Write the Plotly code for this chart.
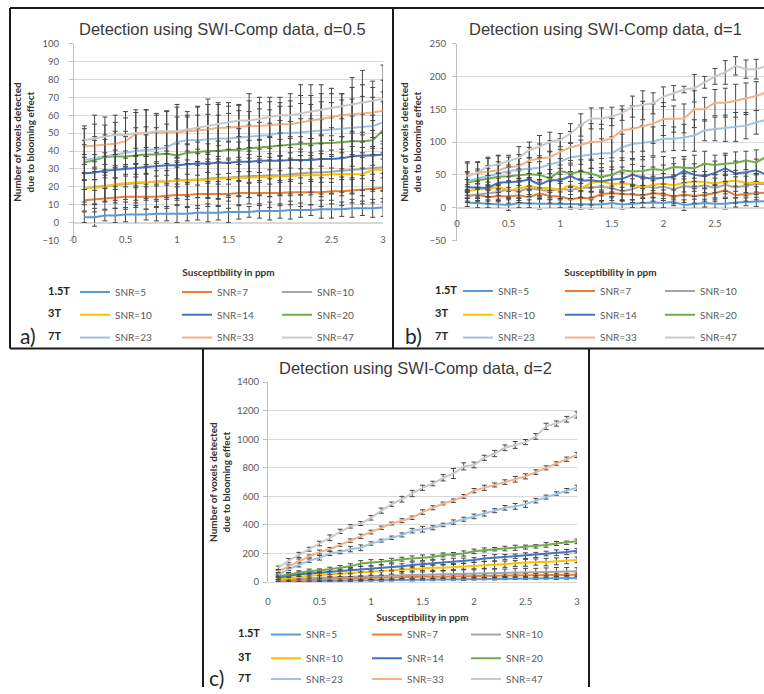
import plotly.graph_objects as go

# ---------------- data ----------------
x_ppm = [0.1, 0.2, 0.3, 0.4, 0.5, 0.6, 0.7, 0.8, 0.9, 1.0,
         1.1, 1.2, 1.3, 1.4, 1.5, 1.6, 1.7, 1.8, 1.9, 2.0,
         2.1, 2.2, 2.3, 2.4, 2.5, 2.6, 2.7, 2.8, 2.9, 3.0]

series_names = ["SNR=5", "SNR=7", "SNR=10",
                "SNR=10", "SNR=14", "SNR=20",
                "SNR=23", "SNR=33", "SNR=47"]
field_labels = ["1.5T", "3T", "7T"]
panel_titles = ["Detection using SWI-Comp data, d=0.5",
                "Detection using SWI-Comp data, d=1",
                "Detection using SWI-Comp data, d=2"]
panel_letters = ["a)", "b)", "c)"]
x_title = "Susceptibility in ppm"
y_title = "<b>Number of voxels detected<br>due to blooming effect</b>"

# panel a (d=0.5)
a_snr5 = [3, 3, 4, 4, 4.5, 4.5, 4.5, 5, 5, 5, 5, 5.5, 5.5, 5.5, 6, 6, 6, 6.5, 6.5, 6.5, 7, 7, 7, 7.5, 7.5, 7.5, 8, 8, 8, 8.5]
a_snr7 = [12.5, 13, 13.5, 14, 14.5, 14.5, 14.5, 14.5, 15, 15.5, 15.5, 16, 16, 16, 16, 16.5, 16.5, 16.5, 16.5, 16.5, 17, 17, 17, 17, 17.5, 17.5, 18, 18.5, 19, 19.5]
a_snr10 = [19, 20, 20.5, 21, 21.5, 22, 22.5, 23, 23, 23.5, 24, 24, 24.5, 25, 25, 25.5, 26, 26, 26.5, 26.5, 27, 27.5, 28, 28, 28.5, 29, 29.5, 30, 30.5, 31]
a_snr10_3t = [19.5, 19.5, 20, 21.5, 22, 22.5, 22.5, 23, 23, 23.5, 23.5, 24, 24, 24.5, 25, 25, 25, 25.5, 25.5, 26, 26, 26.5, 26.5, 26.5, 27, 27, 27, 27, 29.5, 29.5]
a_snr14 = [27.5, 28, 29, 29.5, 30, 30.5, 31, 31.5, 32, 32, 32.5, 33, 33, 33.5, 33.5, 34, 34, 34.5, 34.5, 34.5, 35, 35, 35, 35.5, 35.5, 36, 37, 37.5, 37.5, 38]
a_snr20 = [33.5, 35, 36.5, 37, 37, 37.5, 38, 38, 38.5, 37.5, 39, 39.5, 40, 40, 40.5, 40.5, 41.5, 42, 42.5, 43, 43.5, 44, 44, 44.5, 44.5, 45, 45.5, 45.5, 46, 51.5]
a_snr23 = [35, 36, 37, 38, 39, 40, 40.5, 41, 42, 45, 46, 46, 46.5, 47, 47, 47.5, 48, 48.5, 49, 50, 50, 50.5, 51, 51.5, 52, 52.5, 53, 53.5, 54, 56]
a_snr33 = [42.5, 43, 43.5, 44, 45.5, 49.5, 50, 50, 50.5, 50.5, 51, 51.5, 52, 53, 53, 53.5, 54, 54, 54.5, 55, 55, 56, 57, 58, 59, 60, 60.5, 61, 61.5, 62.5]
a_snr47 = [46, 47, 48, 49, 49, 50, 50, 51, 51, 51, 52, 53, 54, 55, 56, 57, 57, 58, 59, 60, 60, 61, 62, 63, 64, 65, 66, 67, 68, 69]

a_err5 = [3, 5, 3, 4, 4, 5, 3, 4, 4, 5, 4, 4, 5, 4, 6, 4, 3, 4, 5, 4, 5, 4, 3, 5, 5, 4, 5, 4, 5, 5]
a_err7 = [6, 7, 6, 6, 7, 6, 7, 6, 7, 6, 7, 8, 7, 7, 8, 7, 6, 7, 8, 7, 7, 8, 7, 8, 7, 8, 7, 8, 8, 8]
a_err10 = [9, 10, 9, 10, 10, 11, 10, 11, 10, 11, 11, 10, 11, 12, 11, 11, 12, 11, 12, 11, 12, 12, 11, 12, 12, 12, 13, 12, 12, 13]
a_err10_3t = [8, 9, 8, 9, 9, 10, 9, 10, 9, 10, 9, 10, 10, 11, 10, 10, 11, 10, 11, 11, 10, 11, 11, 12, 11, 12, 11, 12, 12, 12]
a_err14 = [9, 10, 10, 11, 10, 11, 11, 10, 11, 12, 11, 12, 11, 12, 12, 11, 12, 12, 13, 12, 12, 13, 12, 13, 13, 12, 13, 13, 14, 13]
a_err20 = [10, 11, 10, 12, 11, 12, 11, 12, 12, 13, 12, 13, 12, 13, 13, 12, 13, 14, 13, 14, 13, 14, 14, 13, 14, 15, 14, 15, 14, 16]
a_err23 = [11, 12, 12, 13, 12, 13, 13, 12, 13, 14, 13, 14, 14, 13, 14, 15, 14, 15, 14, 15, 15, 16, 15, 16, 15, 16, 16, 17, 16, 17]
a_err33 = [10, 12, 11, 12, 13, 12, 13, 11, 12, 14, 11, 13, 14, 13, 12, 12, 14, 13, 13, 12, 13, 15, 14, 14, 13, 12, 15, 16, 14, 17]
a_err47 = [8, 13, 11, 11, 13, 13, 13, 9, 11, 15, 8, 12, 15, 12, 11, 9, 15, 12, 11, 10, 12, 16, 15, 14, 11, 7, 15, 18, 11, 19]

# panel b (d=1)
b_snr5 = [8, 7, 6, 6, 4, 7, 6, 6, 6, 6, 5, 6, 5, 5, 7, 5, 6, 7, 8, 7, 9, 4, 6, 7, 6, 6, 8, 9, 9, 10]
b_snr7 = [18, 20, 16, 18, 17, 19, 16, 22, 18, 17, 13, 15, 14, 21, 22, 21, 20, 19, 22, 21, 17, 20, 18, 20, 22, 27, 19, 21, 22, 23]
b_snr10 = [18, 20, 22, 24, 28, 25, 30, 27, 26, 29, 27, 30, 31, 32, 30, 25, 28, 34, 30, 32, 28, 33, 31, 34, 30, 35, 31, 33, 36, 36]
b_snr10_3t = [25, 28, 28, 32, 26, 30, 33, 30, 30, 27, 35, 29, 38, 40, 36, 37, 36, 30, 35, 37, 34, 38, 40, 39, 37, 40, 41, 38, 38, 38]
b_snr14 = [31, 31, 30, 38, 39, 40, 43, 35, 42, 42, 48, 41, 42, 40, 43, 44, 50, 46, 44, 46, 47, 56, 50, 48, 53, 60, 52, 54, 57, 50]
b_snr20 = [38, 42, 44, 47, 48, 50, 51, 50, 45, 56, 52, 55, 52, 47, 50, 57, 55, 56, 59, 57, 62, 61, 60, 67, 65, 67, 68, 72, 69, 78]
b_snr23 = [40, 45, 48, 52, 56, 58, 60, 61, 66, 70, 77, 79, 80, 83, 83, 92, 97, 99, 101, 105, 105, 107, 110, 118, 120, 121, 123, 125, 130, 134]
b_snr33 = [50, 53, 55, 57, 62, 63, 72, 75, 77, 85, 92, 96, 100, 101, 106, 118, 120, 124, 128, 135, 135, 136, 150, 150, 160, 160, 163, 166, 170, 176]
b_snr47 = [48, 53, 63, 66, 71, 76, 88, 93, 100, 103, 113, 126, 136, 136, 139, 144, 154, 156, 159, 169, 175, 180, 182, 191, 200, 206, 216, 211, 211, 216]

b_err5 = [6, 7, 6, 7, 8, 7, 6, 8, 7, 6, 7, 8, 7, 6, 8, 7, 6, 7, 8, 7, 6, 8, 7, 6, 7, 8, 7, 6, 7, 8]
b_err7 = [8, 9, 10, 9, 10, 11, 10, 9, 11, 10, 12, 11, 10, 12, 11, 10, 12, 11, 12, 10, 11, 12, 11, 10, 12, 11, 12, 11, 10, 12]
b_err10 = [10, 11, 12, 13, 12, 14, 13, 12, 14, 15, 13, 14, 15, 14, 13, 15, 16, 14, 15, 14, 16, 15, 14, 16, 15, 14, 16, 15, 16, 15]
b_err10_3t = [10, 12, 11, 13, 12, 14, 13, 12, 14, 13, 15, 14, 13, 15, 14, 16, 15, 14, 13, 15, 16, 14, 15, 16, 14, 15, 16, 15, 14, 15]
b_err14 = [12, 13, 14, 15, 14, 16, 15, 17, 16, 18, 17, 16, 18, 17, 19, 18, 16, 17, 18, 19, 20, 18, 17, 19, 18, 20, 19, 18, 17, 19]
b_err20 = [15, 14, 16, 18, 17, 16, 18, 20, 22, 19, 20, 18, 22, 20, 21, 19, 20, 22, 18, 21, 14, 17, 20, 19, 15, 16, 17, 14, 19, 17]
b_err23 = [15, 14, 16, 18, 15, 17, 16, 18, 20, 19, 22, 24, 20, 22, 25, 20, 24, 26, 22, 20, 18, 20, 24, 16, 18, 20, 22, 20, 18, 20]
b_err33 = [18, 16, 20, 22, 15, 18, 20, 22, 25, 20, 24, 30, 28, 26, 30, 32, 35, 38, 30, 25, 20, 22, 28, 18, 20, 22, 25, 24, 22, 26]
b_err47 = [22, 17, 14, 14, 9, 17, 12, 17, 15, 10, 15, 17, 16, 16, 14, 11, 16, 22, 16, 15, 11, 5, 21, 9, 12, 18, 14, 14, 15, 14]

# panel c (d=2)
c_snr5 = [3, 5, 6, 7, 8, 9, 10, 11, 12, 13, 14, 15, 16, 16, 17, 18, 19, 20, 20, 21, 22, 23, 24, 24, 25, 26, 27, 27, 28, 29]
c_snr7 = [10, 14, 17, 20, 22, 24, 26, 28, 30, 31, 32, 34, 35, 36, 37, 38, 39, 40, 41, 42, 43, 44, 45, 46, 47, 48, 49, 50, 51, 52]
c_snr10 = [15, 20, 25, 28, 30, 32, 35, 38, 40, 42, 44, 46, 48, 50, 52, 54, 55, 57, 58, 60, 62, 63, 65, 66, 68, 70, 71, 72, 74, 75]
c_snr10_3t = [20, 30, 40, 45, 50, 55, 60, 65, 65, 70, 75, 80, 85, 90, 95, 100, 100, 105, 110, 115, 120, 120, 125, 130, 135, 140, 140, 145, 150, 155]
c_snr14 = [30, 45, 55, 60, 65, 70, 75, 80, 90, 95, 100, 105, 110, 120, 125, 135, 140, 145, 150, 155, 165, 170, 175, 180, 185, 190, 200, 205, 210, 220]
c_snr20 = [40, 55, 65, 75, 80, 90, 100, 110, 130, 135, 140, 150, 160, 165, 170, 175, 190, 195, 200, 215, 225, 230, 235, 240, 245, 250, 260, 270, 275, 285]
c_snr23 = [50, 90, 120, 150, 170, 200, 210, 230, 240, 270, 290, 310, 330, 360, 370, 380, 400, 420, 440, 460, 480, 500, 520, 530, 545, 570, 595, 620, 640, 660]
c_snr33 = [75, 110, 150, 180, 210, 230, 260, 290, 320, 350, 380, 410, 430, 450, 490, 520, 550, 570, 600, 640, 660, 680, 700, 720, 740, 770, 800, 830, 860, 890]
c_snr47 = [100, 150, 190, 230, 270, 310, 355, 390, 410, 450, 500, 545, 580, 620, 660, 690, 730, 760, 810, 820, 870, 900, 940, 960, 980, 1020, 1090, 1110, 1140, 1170]

c_err5 = [5, 6, 7, 6, 8, 7, 6, 8, 7, 6, 8, 7, 6, 8, 7, 8, 6, 7, 8, 7, 6, 8, 7, 6, 8, 7, 6, 8, 7, 6]
c_err7 = [8, 10, 12, 10, 12, 14, 12, 10, 14, 12, 14, 12, 10, 14, 12, 14, 12, 10, 12, 14, 12, 14, 12, 10, 14, 12, 14, 12, 10, 12]
c_err10 = [20, 22, 24, 26, 28, 24, 26, 30, 28, 26, 28, 30, 26, 28, 30, 28, 26, 30, 28, 26, 30, 28, 26, 30, 28, 26, 28, 30, 28, 26]
c_err10_3t = [15, 18, 20, 22, 24, 20, 22, 26, 24, 22, 26, 24, 22, 20, 24, 26, 22, 24, 20, 22, 24, 26, 22, 20, 24, 22, 26, 24, 22, 20]
c_err14 = [12, 14, 16, 18, 20, 18, 16, 22, 20, 18, 20, 22, 18, 20, 16, 18, 20, 22, 18, 16, 20, 22, 18, 16, 20, 18, 16, 20, 18, 16]
c_err20 = [10, 12, 14, 16, 12, 14, 16, 18, 20, 22, 18, 16, 14, 18, 20, 16, 14, 12, 18, 16, 14, 12, 16, 18, 14, 12, 16, 14, 12, 16]
c_err23 = [8, 10, 14, 12, 16, 14, 12, 18, 20, 12, 10, 12, 14, 16, 20, 14, 12, 15, 14, 16, 18, 14, 16, 20, 22, 16, 14, 12, 15, 18]
c_err33 = [8, 10, 12, 10, 14, 12, 10, 12, 15, 13, 12, 10, 14, 12, 16, 14, 10, 12, 13, 15, 18, 14, 16, 20, 18, 16, 14, 12, 15, 18]
c_err47 = [12, 15, 18, 14, 16, 20, 15, 12, 14, 16, 18, 15, 20, 22, 18, 16, 22, 35, 25, 20, 18, 22, 20, 24, 18, 20, 22, 18, 20, 22]

# tables built from the arrays above
panel_values = [
    [a_snr5, a_snr7, a_snr10, a_snr10_3t, a_snr14, a_snr20, a_snr23, a_snr33, a_snr47],
    [b_snr5, b_snr7, b_snr10, b_snr10_3t, b_snr14, b_snr20, b_snr23, b_snr33, b_snr47],
    [c_snr5, c_snr7, c_snr10, c_snr10_3t, c_snr14, c_snr20, c_snr23, c_snr33, c_snr47],
]
panel_errors = [
    [a_err5, a_err7, a_err10, a_err10_3t, a_err14, a_err20, a_err23, a_err33, a_err47],
    [b_err5, b_err7, b_err10, b_err10_3t, b_err14, b_err20, b_err23, b_err33, b_err47],
    [c_err5, c_err7, c_err10, c_err10_3t, c_err14, c_err20, c_err23, c_err33, c_err47],
]

# ---------------- styles / layout ----------------
W, H = 764, 694
series_colors = ["#5B9BD5", "#ED7D31", "#A5A5A5",
                 "#FFC000", "#4472C4", "#70AD47",
                 "#9DC3E6", "#F4B183", "#C9C9C9"]

BODY = "Lato, 'Liberation Sans', sans-serif"
TITLE_FONT = "'Liberation Sans', Arial, sans-serif"

# pixel geometry of each panel's plot area
panels = [
    dict(px0=74, px1=383, py0=44, py1=243, xr=[0, 3], yr=[-10, 100], dy=10,
         title_x=222, title_y=29, ystand=6, xstand=24, ylstand=8, xlstand=8,
         leg_x=[115, 217, 317], leg_y=[295, 318, 341], row_x=46, letter=(18, 341)),
    dict(px0=457, px1=764, py0=44, py1=243, xr=[0, 2.975], yr=[-50, 250], dy=50,
         title_x=605, title_y=29, ystand=6, xstand=40, ylstand=4, xlstand=7,
         leg_x=[498, 600, 700], leg_y=[294, 318, 341], row_x=433, letter=(403, 341)),
    dict(px0=268, px1=577, py0=386, py1=588, xr=[0, 3], yr=[0, 1400], dy=200,
         title_x=415, title_y=372, ystand=4, xstand=7, ylstand=2, xlstand=11,
         leg_x=[306, 407, 506], leg_y=[641, 665, 686], row_x=236, letter=(207, 686)),
]


def fx(px):
    return px / W


def fy(py):
    return 1 - py / H


fig = go.Figure()
layout = dict(
    width=W, height=H,
    margin=dict(l=0, r=0, t=0, b=0),
    paper_bgcolor="white", plot_bgcolor="white",
    showlegend=True,
    font=dict(family=BODY, color="#595959"),
)
annotations = []

for p, pan in enumerate(panels):
    sfx = "" if p == 0 else str(p + 1)
    xd = [fx(pan["px0"]), fx(pan["px1"])]
    yd = [fy(pan["py1"]), fy(pan["py0"])]
    yr = pan["yr"]
    zero_pos = yd[0] + (0 - yr[0]) / (yr[1] - yr[0]) * (yd[1] - yd[0])

    layout["xaxis" + sfx] = dict(
        domain=xd, range=pan["xr"], anchor="free", position=zero_pos,
        dtick=0.5, tick0=0, showgrid=False, zeroline=False,
        showline=True, linecolor="#D9D9D9", linewidth=1,
        ticks="", ticklabelstandoff=pan["xlstand"],
        tickfont=dict(family=BODY, size=9.5, color="#595959"),
        title=dict(text="<b>" + x_title + "</b>", standoff=pan["xstand"],
                   font=dict(family=BODY, size=10, color="#333333")),
        automargin=False, fixedrange=True,
    )
    layout["yaxis" + sfx] = dict(
        domain=yd, range=yr, anchor="x" + sfx, dtick=pan["dy"], tick0=0,
        showgrid=True, gridcolor="#D9D9D9", gridwidth=1, zeroline=False,
        showline=True, linecolor="#BFBFBF", linewidth=1,
        ticks="outside", ticklen=4, tickcolor="#BFBFBF",
        ticklabelstandoff=pan["ylstand"],
        tickfont=dict(family=BODY, size=9.5, color="#595959"),
        title=dict(text=y_title, standoff=pan["ystand"],
                   font=dict(family=BODY, size=10, color="#333333")),
        automargin=False, fixedrange=True,
    )

    for i in range(9):
        k = p * 9 + i + 1
        leg = "legend" if k == 1 else "legend" + str(k)
        fig.add_trace(go.Scatter(
            x=x_ppm, y=panel_values[p][i], mode="lines",
            name=series_names[i],
            line=dict(color=series_colors[i], width=2),
            error_y=dict(type="data", array=panel_errors[p][i], symmetric=True,
                         color="#454545", thickness=1, width=2.5),
            xaxis="x" + sfx, yaxis="y" + sfx,
            legend=leg, hoverinfo="skip",
        ))
        row, col = i // 3, i % 3
        layout[leg] = dict(
            x=fx(pan["leg_x"][col] - 40), y=fy(pan["leg_y"][row]),
            xanchor="left", yanchor="middle", orientation="v",
            bgcolor="rgba(0,0,0,0)", borderwidth=0,
            font=dict(family=BODY, size=10, color="#595959"),
            itemclick=False, itemdoubleclick=False,
        )

    annotations.append(dict(
        text=panel_titles[p], x=fx(pan["title_x"]), y=fy(pan["title_y"]),
        xref="paper", yref="paper", xanchor="center", yanchor="middle",
        showarrow=False, font=dict(family=TITLE_FONT, size=16.5, color="#3A3A3A"),
    ))
    for r in range(3):
        annotations.append(dict(
            text="<b>" + field_labels[r] + "</b>", x=fx(pan["row_x"]), y=fy(pan["leg_y"][r] - 2),
            xref="paper", yref="paper", xanchor="left", yanchor="middle",
            showarrow=False, font=dict(family=BODY, size=11, color="#262626"),
        ))
    annotations.append(dict(
        text=panel_letters[p], x=fx(pan["letter"][0]), y=fy(pan["letter"][1] - 2),
        xref="paper", yref="paper", xanchor="left", yanchor="middle",
        showarrow=False, font=dict(family=BODY, size=21, color="#262626"),
    ))

layout["annotations"] = annotations

# panel frames
frame_lines = [
    (10, 8, 764, 8), (10, 8, 10, 352), (393, 8, 393, 352), (10, 352, 764, 352),
    (203, 352, 203, 694), (589, 352, 589, 694),
]
layout["shapes"] = [
    dict(type="line", xref="paper", yref="paper",
         x0=fx(a), y0=fy(b), x1=fx(c), y1=fy(d),
         line=dict(color="#1A1A1A", width=2))
    for (a, b, c, d) in frame_lines
]

fig.update_layout(**layout)
fig.write_html("out.html")
